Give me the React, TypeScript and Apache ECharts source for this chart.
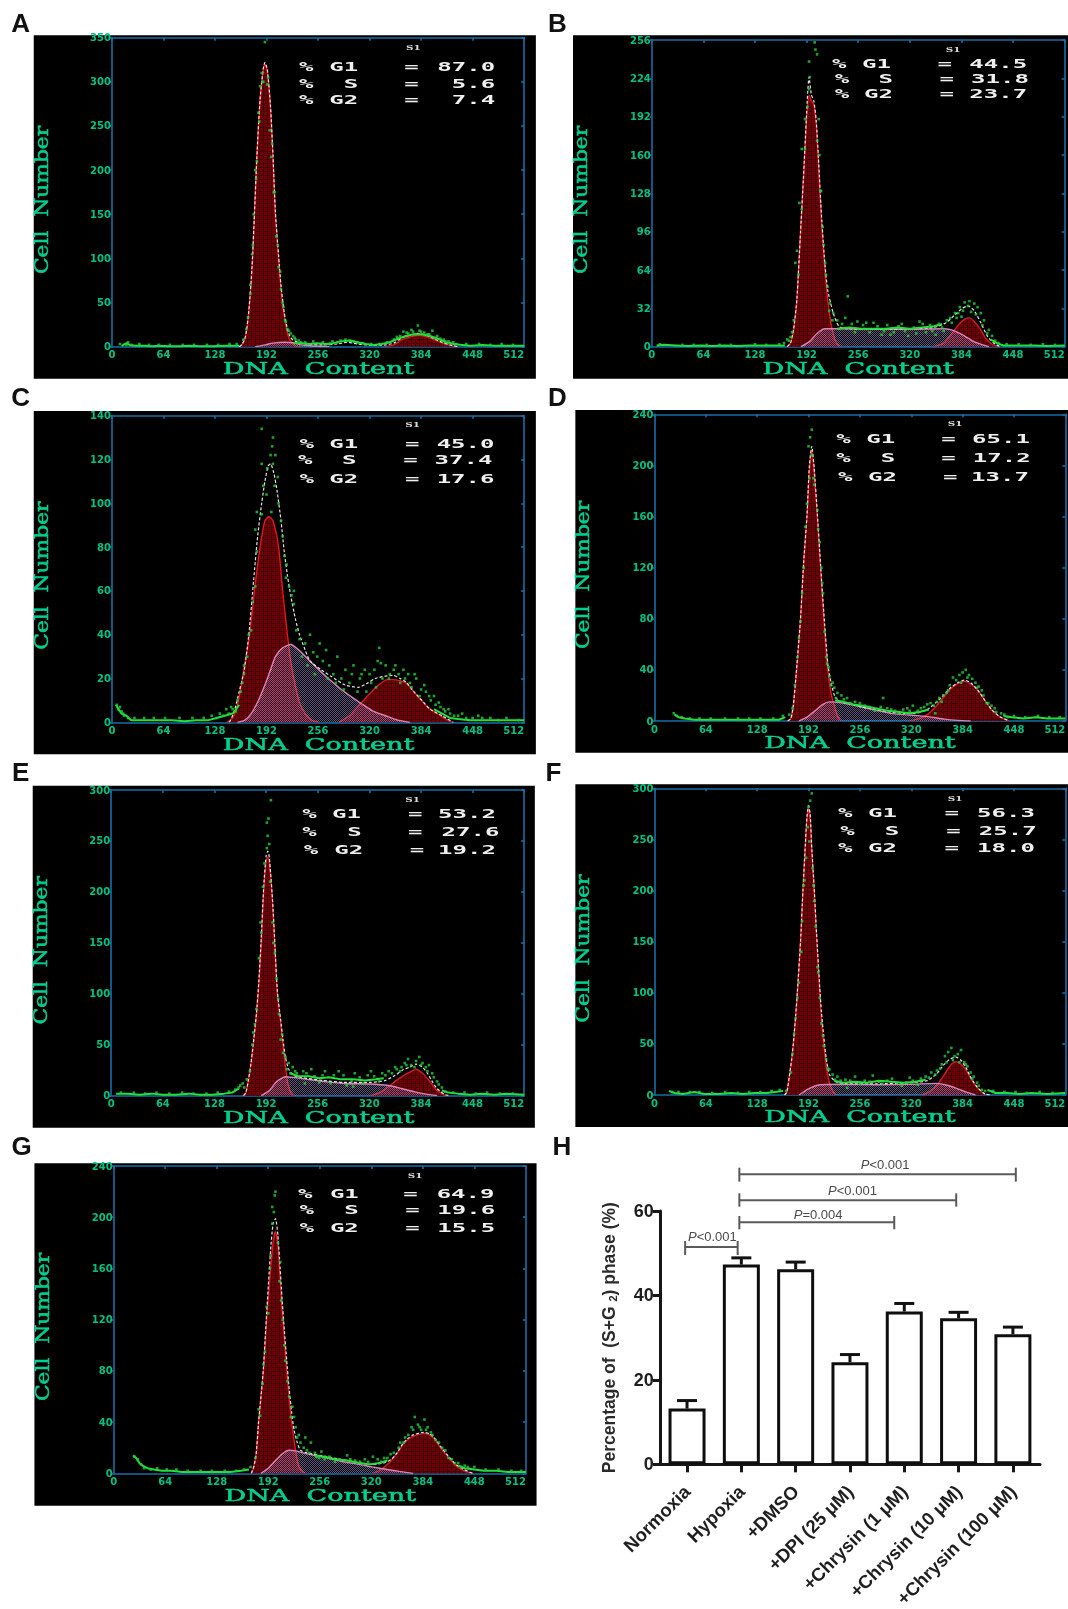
import React, { useEffect, useRef } from "react";
import * as echarts from "echarts";

type Pt = [number, number | null];

/* ---------- flow-cytometry readings (channel, cell number) ---------- */
const a_g1: Pt[] = [[158,0],[162,3],[166,12],[170,40],[174,90],[177,150],[180,215],[184,280],[188,315],[190,320],[193,312],[197,270],[200,215],[203,150],[207,100],[210,65],[214,35],[218,15],[222,6],[228,1],[234,0]];
const a_s: Pt[] = [[178,0],[190,2],[200,4],[215,5],[225,4.5],[235,2],[245,1],[270,0]];
const a_g2: Pt[] = [[340,0],[350,2],[360,8],[370,11],[380,13],[390,11.5],[400,8],[410,4],[420,1.5],[430,0]];
const a_total: Pt[] = [[158,0],[162,3],[166,12],[170,40],[174,90],[177,150],[180,215],[184,280],[188,315],[190,322],[193,314],[197,272],[200,217],[203,153],[207,103],[210,69],[214,39],[218,20],[222,10],[228,6],[240,3],[260,2],[280,3],[292,5],[305,3],[325,1.5],[340,2],[350,4],[360,10],[370,13],[380,15],[390,13],[400,9],[410,5],[420,2],[430,0]];
const a_base: Pt[] = [[12,1],[18,4],[22,2],[30,1],[40,1],[50,0.5],[60,1],[70,0.5],[84,0.5],[96,1],[110,0.5],[125,0.5],[140,1],[150,1],[158,1],[160,null],[226,4],[235,4],[245,3],[255,4],[265,3],[275,4],[285,6],[295,7],[305,5],[315,3],[325,2],[335,3],[345,5],[355,9],[365,12],[375,14],[385,14],[395,12],[405,9],[415,5],[425,3],[435,2],[445,1],[460,2],[475,1],[490,1],[505,1],[512,1]];
const a_dots: Pt[] = [[190,345],[186,310],[188,300],[193,297],[184,295],[182,265],[196,245],[198,215],[180,210],[178,200],[201,175],[176,150],[204,125],[174,105],[207,90],[172,60],[210,65],[212,50],[215,30],[218,20],[222,15],[225,12],[228,8],[235,5],[290,8],[296,7],[305,5],[270,3],[280,5],[350,8],[358,12],[362,17],[366,16],[372,19],[376,14],[380,24],[384,17],[388,16],[392,14],[398,18],[402,10],[408,9],[414,6],[420,4],[428,3],[20,5],[18,2],
  [10,3],[24,2],[34,3],[46,2],[58,2],[72,2],[88,2],[102,2],[118,2],[132,2],[146,3],[155,3],[163,8],[167,20],[169,33],[172,70],[175,115],[179,190],[183,255],[187,300],[194,305],[199,230],[202,175],[206,115],[209,85],[213,45],[216,28],[220,18],[227,10],[232,7],[240,5],[250,6],[262,5],[274,6],[284,7],[300,6],[312,4],[322,3],[332,3],[342,5],[354,11],[368,15],[374,17],[382,18],[394,14],[404,12],[412,8],[418,6],[424,5],[440,3],[456,3],[470,2],[484,3],[498,2]];

const b_g1: Pt[] = [[168,0],[172,3],[176,15],[180,40],[184,90],[188,140],[192,190],[195,210],[198,205],[201,202],[204,185],[207,150],[210,110],[214,70],[218,40],[222,20],[226,8],[230,2],[234,0]];
const b_s: Pt[] = [[185,0],[195,4],[205,11],[214,15],[240,15],[280,14.5],[320,14.5],[360,15],[372,14],[385,10],[400,4],[418,0]];
const b_g2: Pt[] = [[350,0],[362,3],[372,11],[380,18],[388,23],[394,24],[400,21],[408,14],[414,7],[422,2],[430,0]];
const b_total: Pt[] = [[168,0],[172,3],[176,15],[180,40],[184,90],[188,140],[192,195],[195,225],[198,210],[201,205],[204,188],[207,153],[210,115],[214,75],[218,48],[225,28],[232,17],[240,15],[280,14.5],[320,15],[350,16],[365,20],[375,26],[385,32],[392,34],[400,30],[408,20],[416,9],[424,3],[432,0]];
const b_base: Pt[] = [[6,1],[15,1.5],[30,1],[45,0.5],[60,1],[75,0.5],[90,1],[105,0.5],[120,1],[135,1],[150,1],[165,1],[170,null],[230,15],[245,16],[260,15],[275,15],[290,15],[305,16],[320,15],[335,16],[350,17],[360,19],[368,null],[420,6],[428,3],[436,1],[445,1],[460,1],[475,1],[490,0.5],[512,1]];
const b_dots: Pt[] = [[202,254],[203,248],[205,244],[195,238],[196,225],[195,215],[190,190],[186,165],[207,190],[208,160],[210,130],[183,120],[212,100],[180,80],[178,70],[215,70],[218,50],[221,36],[225,28],[230,22],[243,42],[240,24],[248,19],[255,21],[262,18],[270,12],[275,20],[285,10],[292,18],[300,12],[310,19],[318,9],[325,16],[332,21],[340,12],[345,18],[352,10],[360,16],[366,22],[372,20],[376,28],[382,33],[386,30],[388,37],[392,34],[396,29],[400,36],[404,33],[408,28],[412,22],[418,14],[422,9],[430,3],[172,8],[168,6],[176,22],
  [10,2],[38,1.5],[52,1.5],[68,1.5],[84,1.5],[98,1.5],[128,2],[142,1.5],[158,2],[164,3],[170,5],[174,12],[182,60],[186,115],[190,165],[193,200],[205,172],[209,130],[213,85],[216,60],[220,30],[224,22],[236,19],[252,12],[266,20],[280,17],[288,13],[296,10],[306,17],[314,13],[328,11],[336,19],[348,13],[356,19],[362,13],[370,24],[378,24],[380,28],[384,25],[394,38],[402,27],[410,18],[416,11],[426,5],[440,2],[455,2],[470,1.5],[485,2],[500,1.5]];

const c_g1: Pt[] = [[143,0],[150,2],[156,8],[162,20],[171,40],[177,60],[184,80],[190,92],[195,94],[200,92],[207,80],[212,60],[218,40],[222,28],[227,18],[233,9],[240,4],[248,1],[257,0]];
const c_s: Pt[] = [[156,0],[165,1],[173,4],[182,10],[190,17],[197,24],[203,30],[212,34],[222,35.5],[232,33],[246,28],[260,23],[272,19],[285,15],[298,11.5],[310,8.5],[325,5],[340,3],[355,1],[370,0]];
const c_g2: Pt[] = [[282,0],[295,3],[310,9],[320,13],[331,17],[342,19.5],[349,19.5],[358,19],[365,18],[375,14],[382,11],[392,7],[400,5],[410,2.5],[422,0]];
const c_total: Pt[] = [[146,0],[152,5],[158,14],[164,23],[170,40],[176,65],[181,85],[186,100],[190,110],[194,117],[197,118],[201,114],[205,106],[210,92],[214,78],[218,67],[222,58],[228,47],[233,40],[240,33],[246,28],[260,24],[272,21],[290,17],[306,16],[318,18],[327,20],[338,21],[349,21.5],[358,20],[365,18.5],[375,14],[385,10],[395,6],[410,3],[424,0]];
const c_base: Pt[] = [[5,8],[8,6],[12,4],[18,3],[24,1],[32,1],[45,1],[60,1],[75,1],[90,0.5],[105,1],[120,1],[130,2],[140,3],[150,4],[158,8],[162,null],[400,6],[410,4],[420,2],[430,1.5],[445,1],[460,1],[480,1],[495,1],[512,1]];
const c_dots: Pt[] = [[186,134],[200,130],[199,126],[197,122],[203,122],[200,118],[186,118],[193,116],[206,112],[192,104],[207,100],[180,96],[186,95],[198,96],[210,92],[178,88],[212,85],[180,78],[214,76],[217,72],[178,62],[220,62],[223,58],[226,60],[226,54],[173,42],[170,40],[233,38],[240,36],[246,40],[250,32],[255,30],[258,36],[262,28],[266,33],[270,26],[275,22],[280,30],[285,20],[290,24],[295,18],[300,26],[305,14],[310,22],[316,14],[322,18],[326,24],[330,28],[332,34],[336,20],[340,26],[345,22],[352,26],[358,18],[362,24],[368,22],[372,16],[378,20],[384,15],[390,14],[396,10],[402,8],[408,7],[414,5],[420,4],[430,3],[440,2],[460,2],[480,1],[164,22],[160,14],[156,10],[150,6],[145,4],[138,3],[130,2],[6,8],[8,6],[12,5],[15,3],[20,2],[164,26],
  [10,7],[14,4],[28,2],[40,2],[52,2],[66,2],[84,2],[100,2],[114,2],[124,3],[134,4],[142,6],[148,7],[154,5],[162,18],[168,30],[175,55],[188,108],[202,108],[216,66],[229,42],[236,30],[243,26],[252,22],[268,20],[278,18],[288,15],[298,22],[308,20],[314,24],[320,22],[328,16],[334,27],[344,20],[350,24],[356,22],[364,20],[370,18],[376,22],[382,12],[388,17],[394,12],[400,12],[406,9],[412,6],[418,6],[425,3],[435,4],[448,2],[455,3],[470,2],[490,2],[505,1]];

const d_g1: Pt[] = [[166,0],[170,2],[173,12],[177,40],[182,80],[186,125],[190,160],[193,195],[196,212],[199,195],[203,160],[207,120],[211,80],[216,40],[220,22],[224,12],[228,4],[232,0]];
const d_s: Pt[] = [[180,0],[190,3],[200,8],[210,13],[218,15],[235,14],[258,11],[275,8.5],[294,6],[312,5],[331,4],[345,3],[361,1.5],[378,0.5],[394,0]];
const d_g2: Pt[] = [[318,0],[330,2],[340,5],[350,11],[357,16],[369,25],[378,29.5],[386,31],[394,29],[403,24],[412,16],[420,9],[430,3.5],[442,0]];
const d_total: Pt[] = [[166,0],[170,2],[173,12],[177,40],[182,80],[186,125],[190,160],[193,200],[196,215],[199,198],[203,162],[207,122],[211,85],[216,45],[220,30],[225,19],[232,15],[245,13],[258,11],[275,9],[294,7],[312,6],[325,6],[340,9],[350,14],[357,18],[369,26],[378,30],[386,32],[394,30],[403,24],[412,16],[420,9],[430,3.5],[442,0]];
const d_base: Pt[] = [[25,5],[30,3],[38,2],[50,1],[64,1],[80,1],[96,1],[110,1],[125,1],[140,1],[155,1],[163,3],[168,null],[225,16],[235,15],[248,13],[260,12],[275,10],[290,8],[305,7],[318,6],[330,7],[342,9],[352,null],[435,4],[445,3],[460,2],[475,3],[490,2],[505,2],[512,2]];
const d_dots: Pt[] = [[196,228],[194,222],[192,215],[196,208],[193,190],[199,185],[203,165],[190,170],[188,152],[206,140],[186,120],[208,120],[184,100],[210,100],[182,78],[212,70],[178,50],[214,50],[217,42],[220,28],[224,26],[228,22],[233,20],[240,18],[250,15],[262,12],[285,18],[275,8],[295,9],[305,6],[315,10],[322,12],[332,10],[340,13],[348,12],[355,18],[360,20],[364,22],[368,28],[372,34],[376,32],[380,36],[384,38],[388,40],[392,36],[396,33],[400,30],[404,27],[410,20],[414,14],[420,12],[426,7],[432,6],[440,3],[350,6],
  [24,6],[28,4],[34,3],[44,2],[56,2],[70,2],[88,2],[104,2],[118,2],[132,2],[148,2],[160,4],[168,5],[172,10],[175,28],[180,65],[198,190],[204,150],[209,108],[215,45],[218,35],[222,30],[226,18],[236,17],[244,14],[256,14],[268,11],[282,11],[290,10],[300,8],[310,9],[318,8],[328,8],[336,11],[344,14],[352,15],[358,15],[366,24],[382,30],[390,34],[402,26],[408,24],[416,14],[424,10],[436,5],[448,4],[462,3],[478,4],[492,3],[505,3]];

const e_g1: Pt[] = [[164,0],[167,3],[170,15],[173,30],[176,50],[180,80],[183,110],[186,150],[189,200],[192,230],[194,234],[196,230],[200,190],[203,145],[206,100],[210,72],[213,50],[216,28],[219,12],[222,4],[226,0]];
const e_s: Pt[] = [[186,0],[196,5],[204,13],[210,16.5],[216,18.5],[235,17],[262,14],[289,12],[320,11.5],[344,10],[360,7],[375,4],[390,1.5],[404,0]];
const e_g2: Pt[] = [[322,0],[335,4],[344,9],[352,14],[361,19],[370,23],[378,26],[386,22],[392,17],[398,11],[404,5],[414,0]];
const e_total: Pt[] = [[164,0],[167,3],[170,15],[173,30],[176,50],[180,80],[183,112],[186,155],[189,205],[192,235],[194,240],[196,234],[200,192],[203,147],[206,102],[210,75],[213,55],[216,38],[220,26],[226,20],[235,18],[262,15],[289,13],[320,13],[340,15],[352,20],[361,25],[370,28],[378,31],[386,28],[392,22],[398,14],[404,7],[414,1],[420,0]];
const e_base: Pt[] = [[6,2],[20,2],[35,1],[50,2],[64,1],[80,1],[96,2],[110,1],[125,1],[140,2],[150,3],[158,7],[164,null],[222,22],[232,19],[245,19],[258,17],[270,18],[285,16],[300,16],[315,15],[328,16],[338,17],[345,null],[410,5],[418,3],[430,2],[445,1],[460,2],[475,1],[490,2],[512,1]];
const e_dots: Pt[] = [[198,290],[195,272],[193,268],[194,255],[193,243],[196,247],[190,228],[197,210],[188,205],[185,170],[200,170],[203,140],[183,135],[205,115],[180,85],[208,80],[176,62],[175,50],[210,55],[213,42],[216,38],[220,32],[225,28],[168,16],[163,12],[158,8],[228,24],[238,24],[248,26],[258,13],[265,24],[272,12],[282,24],[292,10],[302,22],[312,12],[322,24],[332,14],[340,20],[348,22],[354,26],[360,28],[364,32],[368,36],[372,30],[378,34],[382,38],[386,32],[390,28],[394,30],[398,22],[404,14],[410,8],[300,9],[240,12],
  [12,3],[28,3],[42,2],[56,3],[72,2],[88,3],[102,2],[118,2],[132,3],[146,4],[154,6],[160,10],[165,8],[172,24],[178,70],[186,160],[201,150],[207,95],[212,60],[218,26],[222,22],[230,22],[242,22],[252,19],[262,20],[276,20],[288,20],[298,14],[308,18],[318,20],[326,19],[336,22],[344,24],[352,28],[358,24],[366,30],[376,28],[384,30],[392,24],[400,18],[406,11],[414,4],[424,3],[438,3],[452,2],[466,3],[482,2],[498,2]];

const f_g1: Pt[] = [[162,0],[165,3],[168,18],[171,35],[173,50],[176,78],[178,100],[182,150],[185,200],[188,245],[190,270],[192,280],[194,272],[196,240],[199,200],[202,155],[206,100],[208,75],[211,50],[214,28],[218,12],[222,4],[226,0]];
const f_s: Pt[] = [[180,0],[193,6.5],[206,10],[230,10.5],[277,10],[320,10.5],[352,11.4],[365,9.5],[375,7],[388,3],[400,0]];
const f_g2: Pt[] = [[334,0],[344,4],[352,10],[358,16],[365,24.5],[370,30],[376,32.6],[382,30],[388,24.5],[395,15],[403,6.5],[412,0]];
const f_total: Pt[] = [[162,0],[165,3],[168,18],[171,35],[173,50],[176,78],[178,100],[182,150],[185,200],[188,245],[190,272],[192,283],[194,275],[196,242],[199,203],[202,158],[206,105],[208,82],[211,57],[214,36],[218,20],[226,13],[240,11],[277,11],[320,12],[340,14],[352,21],[360,29],[368,35],[376,37],[382,34],[388,27],[395,16],[403,7],[412,1],[418,0]];
const f_base: Pt[] = [[18,4],[25,2],[35,1],[50,3],[62,1],[80,1],[96,2],[110,1],[125,2],[140,2],[150,3],[160,4],[164,null],[224,14],[235,12],[250,13],[265,12],[280,14],[295,13],[310,12],[325,13],[338,15],[346,null],[415,5],[425,2],[440,2],[455,1],[470,2],[490,1],[512,2]];
const f_dots: Pt[] = [[196,295],[194,288],[192,282],[191,262],[193,248],[189,232],[197,222],[187,210],[199,190],[184,170],[201,165],[183,140],[203,125],[180,110],[206,95],[176,75],[174,60],[208,70],[172,40],[211,48],[214,35],[218,25],[222,20],[228,18],[238,15],[250,18],[262,14],[272,19],[284,11],[296,16],[308,9],[318,17],[328,10],[338,18],[345,22],[352,24],[358,30],[362,38],[366,42],[370,46],[374,38],[378,40],[382,44],[386,32],[390,28],[394,22],[398,18],[402,12],[408,5],[240,7],
  [22,3],[30,3],[44,3],[56,3],[72,2],[88,3],[104,2],[118,3],[132,3],[146,4],[156,5],[164,4],[170,22],[178,95],[186,205],[198,205],[204,120],[210,58],[216,26],[225,15],[232,14],[244,14],[256,11],[268,13],[280,13],[290,14],[302,12],[314,12],[322,14],[332,16],[342,17],[350,20],[356,26],[364,32],[372,34],[380,32],[388,30],[396,16],[404,9],[412,4],[422,4],[436,3],[450,3],[464,2],[480,3],[496,2]];

const g_g1: Pt[] = [[171,0],[174,5],[177,15],[180,40],[183,60],[186,80],[190,120],[195,160],[198,180],[201,189],[204,178],[206,160],[209,130],[212,105],[215,80],[218,58],[221,40],[224,26],[228,10],[232,3],[238,0]];
const g_s: Pt[] = [[183,0],[192,4],[201,10],[210,15.5],[218,18],[226,17.5],[235,16],[250,14],[265,12],[285,9],[305,7],[321,5],[340,3],[355,1.5],[372,0]];
const g_g2: Pt[] = [[322,0],[332,3],[342,8],[350,14],[359,22],[365,26],[372,29],[385,31],[392,30],[398,27],[406,20],[415,13],[425,6],[435,2],[446,0]];
const g_total: Pt[] = [[171,0],[174,5],[177,15],[180,40],[183,60],[186,82],[190,125],[195,175],[198,195],[201,199],[204,186],[206,168],[209,138],[212,112],[215,88],[218,66],[221,48],[224,34],[228,24],[232,18],[240,16],[265,13],[290,10],[321,7],[335,8],[345,11],[352,16],[359,23],[365,27],[372,30],[385,32],[392,31],[398,28],[406,21],[415,14],[425,7],[435,3],[446,0]];
const g_base: Pt[] = [[24,14],[28,12],[32,8],[36,6],[42,4],[50,3],[60,2],[72,2],[85,1],[100,1],[115,1],[130,1],[145,1],[158,2],[168,3],[172,null],[250,14],[262,13],[275,11],[290,10],[305,8],[318,7],[330,8],[340,10],[348,null],[428,6],[436,4],[448,3],[460,2],[475,2],[490,1],[505,1],[512,1]];
const g_dots: Pt[] = [[201,220],[200,217],[197,208],[199,204],[197,195],[204,180],[195,170],[194,160],[207,165],[208,135],[190,130],[188,95],[210,120],[186,85],[213,88],[185,70],[216,72],[180,50],[218,60],[222,52],[224,44],[226,36],[228,28],[232,24],[236,20],[240,18],[245,24],[250,16],[255,12],[262,11],[275,9],[290,14],[300,10],[312,11],[322,13],[332,9],[340,12],[348,16],[354,20],[360,24],[366,30],[370,36],[374,44],[378,38],[382,34],[386,42],[390,36],[394,32],[400,26],[408,20],[416,12],[424,8],[432,5],[440,5],
  [26,13],[30,11],[34,7],[38,4],[46,3],[54,4],[66,3],[78,3],[92,2],[108,2],[122,2],[138,2],[152,2],[162,3],[170,5],[176,12],[182,45],[192,125],[206,150],[212,100],[220,44],[230,30],[238,28],[243,16],[252,13],[258,17],[268,13],[280,11],[294,11],[306,9],[316,9],[328,11],[336,12],[344,15],[356,24],[362,28],[372,34],[380,36],[388,34],[396,30],[404,24],[412,18],[420,11],[428,8],[436,6],[448,5],[462,3],[478,3],[494,2],[506,2]];

const h_categories = ["Normoxia", "Hypoxia", "+DMSO", "+DPI (25 μM)", "+Chrysin (1 μM)", "+Chrysin (10 μM)", "+Chrysin (100 μM)"];
const h_means = [13.2, 47.3, 46.2, 24.2, 36.2, 34.6, 30.8];
const h_upper = [15.1, 48.9, 47.9, 26.0, 38.1, 36.0, 32.5];
const h_yTicks = [0, 20, 40, 60];

const percents = {
  A: ["87.0", "5.6", "7.4"], B: ["44.5", "31.8", "23.7"], C: ["45.0", "37.4", "17.6"], D: ["65.1", "17.2", "13.7"],
  E: ["53.2", "27.6", "19.2"], F: ["56.3", "25.7", "18.0"], G: ["64.9", "19.6", "15.5"],
};

/* ---------- layout, in the pixel grid of the panel crops ---------- */
const LF = 1568 / 540, RF = 1568 / 528;
const panels = [
  { k: "A", ox: 0, oy: 0, fx: LF, black: [98, 106, 1556, 1136], frame: [325, 113, 1522, 1040], max: 350, step: 50, lab: [60, 70], rows: [200, 250, 298], pct: [868, 868, 868], rt: [1040, 1040, 1040], eq: [1195, 1195, 1195], val: [1438, 1438, 1438], s1: [1200, 142], dna: [925, 1105], cell: [122, 600], g1: a_g1, s: a_s, g2: a_g2, total: a_total, base: a_base, dots: a_dots },
  { k: "B", ox: 540, oy: 0, fx: RF, black: [98, 106, 1568, 1136], frame: [332, 120, 1558, 1040], max: 256, step: 32, lab: [52, 70], rows: [190, 237, 282], pct: [867, 875, 875], rt: [1042, 1048, 1048], eq: [1202, 1208, 1208], val: [1447, 1452, 1447], s1: [1227, 148], dna: [945, 1105], cell: [122, 600], g1: b_g1, s: b_s, g2: b_g2, total: b_total, base: b_base, dots: b_dots },
  { k: "C", ox: 0, oy: 385, fx: LF, black: [98, 78, 1556, 1108], frame: [325, 92, 1522, 1012], max: 140, step: 20, lab: [60, 35], rows: [177, 224, 280], pct: [870, 865, 870], rt: [1040, 1035, 1040], eq: [1197, 1192, 1197], val: [1436, 1430, 1436], s1: [1198, 118], dna: [925, 1077], cell: [122, 572], g1: c_g1, s: c_s, g2: c_g2, total: c_total, base: c_base, dots: c_dots },
  { k: "D", ox: 540, oy: 385, fx: RF, black: [105, 75, 1568, 1103], frame: [340, 88, 1560, 1008], max: 240, step: 40, lab: [52, 35], rows: [162, 218, 275], pct: [880, 880, 885], rt: [1055, 1055, 1060], eq: [1213, 1213, 1218], val: [1455, 1457, 1452], s1: [1233, 115], dna: [950, 1073], cell: [128, 570], g1: d_g1, s: d_s, g2: d_g2, total: d_total, base: d_base, dots: d_dots },
  { k: "E", ox: 0, oy: 770, fx: LF, black: [95, 47, 1553, 1073], frame: [323, 60, 1522, 977], max: 300, step: 50, lab: [60, 5], rows: [132, 185, 238], pct: [878, 878, 882], rt: [1048, 1050, 1055], eq: [1206, 1206, 1211], val: [1440, 1450, 1440], s1: [1198, 87], dna: [925, 1043], cell: [118, 541], g1: e_g1, s: e_s, g2: e_g2, total: e_total, base: e_base, dots: e_dots },
  { k: "F", ox: 540, oy: 770, fx: RF, black: [105, 43, 1568, 1071], frame: [340, 55, 1560, 975], max: 300, step: 50, lab: [40, 5], rows: [128, 182, 234], pct: [885, 892, 885], rt: [1060, 1067, 1060], eq: [1223, 1228, 1223], val: [1470, 1475, 1470], s1: [1233, 83], dna: [950, 1040], cell: [128, 536], g1: f_g1, s: f_s, g2: f_g2, total: f_total, base: f_base, dots: f_dots },
  { k: "G", ox: 0, oy: 1140, fx: LF, black: [100, 70, 1558, 1097], frame: [330, 78, 1527, 1000], max: 240, step: 40, lab: [63, 18], rows: [160, 210, 262], pct: [865, 870, 870], rt: [1042, 1042, 1042], eq: [1192, 1198, 1198], val: [1436, 1438, 1438], s1: [1205, 104], dna: [930, 1066], cell: [125, 561], g1: g_g1, s: g_s, g2: g_g2, total: g_total, base: g_base, dots: g_dots },
];

const BLUE = "#1a6ea6", TICK_GREEN = "#00c183", GRN = "#24e13a";
const MONO = "DejaVu Sans Mono", SERIF = "DejaVu Serif", SANS = "Liberation Sans", TICKF = "DejaVu Sans";
const STRETCH = 1.85;

function hatch(draw: (c: CanvasRenderingContext2D) => void, w: number, h: number) {
  const cv = document.createElement("canvas");
  cv.width = w; cv.height = h;
  draw(cv.getContext("2d")!);
  return { image: cv, repeat: "repeat" };
}

function buildOption() {
  const redFill = hatch((c) => {
    c.fillStyle = "#6c0207"; c.fillRect(0, 0, 4, 4);
    c.fillStyle = "#480004"; c.fillRect(0, 3, 4, 1); c.fillRect(3, 0, 1, 4);
  }, 4, 4);
  const sFill = hatch((c) => {
    c.clearRect(0, 0, 2, 2);
    c.fillStyle = "rgba(155,135,205,0.62)"; c.fillRect(0, 0, 1, 1); c.fillRect(1, 1, 1, 1);
  }, 2, 2);
  const grid: any[] = [], xAxis: any[] = [], yAxis: any[] = [], series: any[] = [], graphic: any[] = [];
  panels.forEach((p, i) => {
    const X = (v: number) => p.ox + v / p.fx, Y = (v: number) => p.oy + v / 3;
    const [fl, ft, fr, fb] = p.frame;
    grid.push({ left: X(fl), top: Y(ft), width: X(fr) - X(fl), height: Y(fb) - Y(ft), show: false, outerBoundsMode: "none" });
    const line = { lineStyle: { color: BLUE, width: 1.6 } };
    const xCommon = { type: "value", gridIndex: i, min: 0, max: 512, interval: 64, splitLine: { show: false } };
    const yCommon = { type: "value", gridIndex: i, min: 0, max: p.max, interval: p.step, splitLine: { show: false } };
    xAxis.push({ ...xCommon, position: "bottom", axisLine: { show: true, onZero: false, ...line }, axisTick: { show: false }, axisLabel: { color: TICK_GREEN, fontFamily: TICKF, fontWeight: "bold", fontSize: 10, margin: 3, hideOverlap: false, alignMaxLabel: "right" } });
    xAxis.push({ ...xCommon, position: "top", axisLine: { show: true, onZero: false, ...line }, axisTick: { show: true, inside: true, length: 3, ...line }, axisLabel: { show: false } });
    yAxis.push({ ...yCommon, position: "left", axisLine: { show: true, onZero: false, ...line }, axisTick: { show: true, length: 2, ...line }, axisLabel: { color: TICK_GREEN, fontFamily: TICKF, fontWeight: "bold", fontSize: 10, margin: 1, padding: [0, 0, 7, 0] } });
    yAxis.push({ ...yCommon, position: "right", axisLine: { show: true, onZero: false, ...line }, axisTick: { show: true, inside: true, length: 3, ...line }, axisLabel: { show: false } });
    const xi = i * 2, yi = i * 2;
    const curve = (name: string, data: Pt[], fill: any, stroke: string, z: number) => ({
      type: "line", name, xAxisIndex: xi, yAxisIndex: yi, data, symbol: "none", smooth: 0.2, z, silent: true,
      lineStyle: { color: stroke, width: 1.4 }, areaStyle: { color: fill, opacity: 1 },
    });
    series.push(curve(p.k + " G1", p.g1, redFill, "#e5141f", 3));
    series.push(curve(p.k + " G2", p.g2, redFill, "#d41a28", 3));
    series.push(curve(p.k + " S", p.s, sFill, "#d884b8", 4));
    series.push({ type: "line", name: p.k + " fit", xAxisIndex: xi, yAxisIndex: yi, data: p.total, symbol: "none", smooth: 0.2, z: 5, silent: true, lineStyle: { color: "#e4e4e4", width: 1.2, type: [3, 2] } });
    series.push({ type: "line", name: p.k + " trace", xAxisIndex: xi, yAxisIndex: yi, data: p.base, symbol: "none", z: 6, silent: true, connectNulls: false, lineStyle: { color: GRN, width: 2 } });
    series.push({ type: "scatter", name: p.k + " events", xAxisIndex: xi, yAxisIndex: yi, data: p.dots, symbol: "rect", symbolSize: 2.6, z: 7, silent: true, itemStyle: { color: "#22d038" } });

    graphic.push({ type: "rect", z: -5, shape: { x: X(p.black[0]), y: Y(p.black[1]), width: X(p.black[2]) - X(p.black[0]), height: Y(p.black[3]) - Y(p.black[1]) }, style: { fill: "#000" }, silent: true });
    graphic.push({ type: "text", z: 20, x: X(p.lab[0]), y: Y(p.lab[1]), style: { text: p.k, font: `bold 26px "${SANS}"`, fill: "#111", align: "center", verticalAlign: "middle" } });
    graphic.push({ type: "text", z: 20, x: X(p.s1[0]), y: Y(p.s1[1]), scaleX: 1.3, style: { text: "S1", font: `bold 8px "${SERIF}"`, fill: "#d8d8d8", align: "center", verticalAlign: "middle" } });
    const titleInk = { fill: "#00cf92", stroke: "#00cf92", lineWidth: 0.5 };
    graphic.push({ type: "text", z: 20, x: X(p.dna[0]), y: Y(p.dna[1]), scaleX: 1.69, style: { text: "DNA  Content", font: `16px "${SERIF}"`, ...titleInk, align: "center", verticalAlign: "middle" } });
    graphic.push({ type: "text", z: 20, x: X(p.cell[0]), y: Y(p.cell[1]), rotation: Math.PI / 2, scaleX: 1.21, style: { text: "Cell  Number", font: `18px "${SERIF}"`, ...titleInk, align: "center", verticalAlign: "middle" } });
    const vals = (percents as any)[p.k];
    ["G1", "S", "G2"].forEach((lbl, r) => {
      const statText = (text: string, x: number, align: string) => ({ type: "text", z: 20, x: X(x), y: Y(p.rows[r]), scaleX: STRETCH, style: { text, font: `bold 13px "${MONO}"`, fill: "#f0f0f0", align, verticalAlign: "middle" } });
      graphic.push(statText("%", p.pct[r], "left"), statText(lbl, p.rt[r], "right"), statText("=", p.eq[r], "center"), statText(vals[r], p.val[r], "right"));
    });
  });

  /* ---------- panel H ---------- */
  const hi = panels.length * 2;
  const hx = (v: number) => 540 + v / RF, hy = (v: number) => 1130 + v / 3;
  const gi = panels.length;
  grid.push({ left: hx(356), top: hy(243), width: hx(1485) - hx(356), height: hy(1003) - hy(243), show: false, outerBoundsMode: "none" });
  const blackLine = { lineStyle: { color: "#161616", width: 3 } };
  xAxis[hi] = { type: "category", gridIndex: gi, data: h_categories, position: "bottom", axisLine: { show: true, ...blackLine }, axisTick: { show: true, alignWithLabel: true, length: 8, ...blackLine }, axisLabel: { interval: 0, rotate: 45, color: "#1e1e1e", fontFamily: SANS, fontWeight: "bold", fontSize: 18.5, margin: 24 } };
  yAxis[hi] = { type: "value", gridIndex: gi, min: h_yTicks[0], max: h_yTicks[3], interval: 20, axisLine: { show: true, ...blackLine }, axisTick: { show: true, length: 7, ...blackLine }, splitLine: { show: false }, axisLabel: { color: "#1e1e1e", fontFamily: SANS, fontWeight: "bold", fontSize: 18, margin: 6 }, name: "Percentage of  (S+G {s|2}) phase (%)", nameLocation: "middle", nameGap: 41, nameTextStyle: { color: "#2a2a2a", fontFamily: SANS, fontWeight: "bold", fontSize: 17.5, rich: { s: { fontSize: 11, fontFamily: SANS, fontWeight: "bold", color: "#2a2a2a", padding: [8, 0, 0, 0] } } } };
  series.push({ type: "bar", name: "S+G2", xAxisIndex: hi, yAxisIndex: hi, data: h_means, barWidth: 37, silent: true, itemStyle: { color: "#fff", borderColor: "#0e0e0e", borderWidth: 3 } });
  series.push({
    type: "custom", name: "SEM", xAxisIndex: hi, yAxisIndex: hi, silent: true, z: 1,
    data: h_means.map((m, i) => [i, m, h_upper[i]]),
    renderItem: (_: any, api: any) => {
      const a = api.coord([api.value(0), api.value(1)]), b = api.coord([api.value(0), api.value(2)]);
      const st = { stroke: "#111", lineWidth: 3, fill: "none" };
      return { type: "group", children: [
        { type: "line", shape: { x1: a[0], y1: a[1], x2: b[0], y2: b[1] }, style: st },
        { type: "line", shape: { x1: b[0] - 10, y1: b[1], x2: b[0] + 10, y2: b[1] }, style: st },
      ] };
    },
  });
  const brackets = [
    { x1: 592, x2: 1413, y: 133, t: 113, b: 155, tx: 1025, ty: 104, label: "<0.001" },
    { x1: 592, x2: 1236, y: 211, t: 190, b: 230, tx: 928, ty: 180, label: "<0.001" },
    { x1: 592, x2: 1052, y: 277, t: 258, b: 298, tx: 826, ty: 253, label: "=0.004" },
    { x1: 431, x2: 587, y: 351, t: 333, b: 375, tx: 512, ty: 320, label: "<0.001" },
  ];
  const grey = { stroke: "#5a5a5a", lineWidth: 2 };
  brackets.forEach((b) => {
    graphic.push({ type: "line", z: 10, shape: { x1: hx(b.x1), y1: hy(b.y), x2: hx(b.x2), y2: hy(b.y) }, style: grey });
    graphic.push({ type: "line", z: 10, shape: { x1: hx(b.x1), y1: hy(b.t), x2: hx(b.x1), y2: hy(b.b) }, style: grey });
    graphic.push({ type: "line", z: 10, shape: { x1: hx(b.x2), y1: hy(b.t), x2: hx(b.x2), y2: hy(b.b) }, style: grey });
    graphic.push({ type: "text", z: 10, x: hx(b.tx), y: hy(b.ty), style: { text: "{i|P}{n|" + b.label + "}", align: "center", verticalAlign: "middle", rich: { i: { fontStyle: "italic", fontFamily: SANS, fontSize: 13, fill: "#4a4a4a", color: "#4a4a4a" }, n: { fontFamily: SANS, fontSize: 13, fill: "#4a4a4a", color: "#4a4a4a" } } } });
  });
  graphic.push({ type: "text", z: 20, x: 562, y: 1146, style: { text: "H", font: `bold 26px "${SANS}"`, fill: "#111", align: "center", verticalAlign: "middle" } });

  return { animation: false, backgroundColor: "#fff", grid, xAxis, yAxis, series, graphic: { elements: graphic } };
}

export default function App() {
  const ref = useRef<HTMLDivElement>(null);
  useEffect(() => {
    document.body.style.margin = "0";
    const chart = echarts.init(ref.current!, undefined, { renderer: "svg" });
    chart.setOption(buildOption());
    return () => chart.dispose();
  }, []);
  return <div ref={ref} style={{ position: "absolute", left: 0, top: 0, width: 1068, height: 1609, filter: "blur(0.6px)" }} />;
}
